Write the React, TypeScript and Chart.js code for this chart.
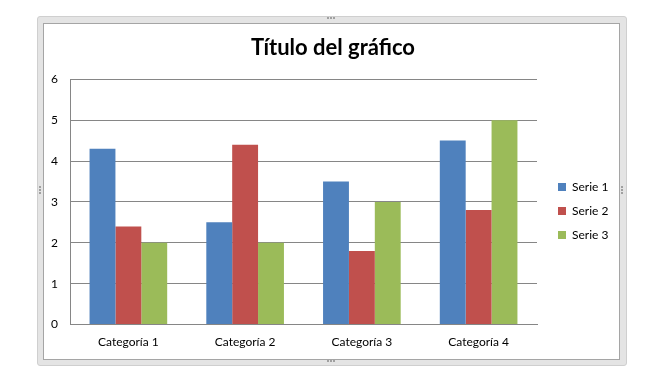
import React, { useEffect, useRef } from 'react';
import { Chart, registerables } from 'chart.js';

Chart.register(...registerables);

const categories = ['Categoría 1', 'Categoría 2', 'Categoría 3', 'Categoría 4'];
const serie1 = [4.3, 2.5, 3.5, 4.5];
const serie2 = [2.4, 4.4, 1.8, 2.8];
const serie3 = [2, 2, 3, 5];
const seriesNames = ['Serie 1', 'Serie 2', 'Serie 3'];
const seriesColors = ['#4F81BD', '#C0504D', '#9BBB59'];
const yMin = 0;
const yMax = 6;
const yStep = 1;
const chartTitle = 'Título del gráfico';

const FONT = 'Lato, "Open Sans", sans-serif';
const GRID = '#868686';

function Grip({ left, top, vertical }: { left: number; top: number; vertical?: boolean }) {
  const style: React.CSSProperties = vertical
    ? { position: 'absolute', left, top, width: 0, height: 8, borderLeft: '2px dotted #a0a0a0' }
    : { position: 'absolute', left, top, width: 8, height: 0, borderTop: '2px dotted #a0a0a0' };
  return <div style={style} />;
}

export default function App() {
  const ref = useRef<HTMLCanvasElement | null>(null);

  useEffect(() => {
    if (!ref.current) return;
    const datasets = [serie1, serie2, serie3].map((d, i) => ({
      label: seriesNames[i],
      data: d,
      backgroundColor: seriesColors[i],
      borderWidth: 0,
      barPercentage: 1,
      categoryPercentage: 0.665,
    }));
    const chart = new Chart(ref.current, {
      type: 'bar',
      data: { labels: categories, datasets },
      options: {
        animation: false,
        responsive: false,
        devicePixelRatio: 1,
        layout: { padding: { left: 50, right: 35, top: 31, bottom: 0 } },
        plugins: {
          title: {
            display: true,
            text: chartTitle,
            color: '#000',
            font: { family: FONT, size: 22, weight: 'bold' },
            padding: { top: 3.8, bottom: 18.1 },
          },
          legend: {
            display: true,
            position: 'right',
            maxWidth: 70,
            labels: {
              boxWidth: 8,
              boxHeight: 8,
              padding: 12,
              color: '#000',
              font: { family: FONT, size: 12 },
            },
          },
          tooltip: { enabled: false },
        },
        scales: {
          x: {
            type: 'category',
            grid: { display: false, drawTicks: false },
            border: { display: true, color: GRID, width: 1 },
            ticks: { color: '#000', font: { family: FONT, size: 12 }, padding: 10, maxRotation: 0 },
            afterFit: (s: any) => {
              s.height = 66.5;
            },
          },
          y: {
            type: 'linear',
            min: yMin,
            max: yMax,
            ticks: { stepSize: yStep, color: '#000', font: { family: FONT, size: 12 }, padding: 12 },
            grid: { color: GRID, lineWidth: 1, drawTicks: false },
            border: { display: true, color: GRID, width: 1 },
            afterFit: (s: any) => {
              s.width = 20;
            },
          },
          gap: {
            type: 'linear',
            position: 'right',
            display: true,
            grid: { display: false, drawTicks: false },
            border: { display: false },
            ticks: { display: false },
            afterFit: (s: any) => {
              s.width = 9;
            },
          },
        },
      } as any,
    });
    return () => chart.destroy();
  }, []);

  return (
    <div style={{ position: 'absolute', left: 0, top: 0, width: 651, height: 391, background: '#fff' }}>
      <div
        style={{
          position: 'absolute',
          left: 37,
          top: 16,
          width: 588,
          height: 348,
          background: '#e4e4e4',
          border: '1px solid #cfcfcf',
          borderRadius: 3,
        }}
      />
      <div
        style={{
          position: 'absolute',
          left: 43,
          top: 23,
          width: 575,
          height: 335,
          background: '#fff',
          border: '1px solid #a5a5a5',
        }}
      />
      <Grip left={327} top={17} />
      <Grip left={327} top={360} />
      <Grip left={39} top={186} vertical />
      <Grip left={621} top={186} vertical />
      <canvas
        ref={ref}
        width={651}
        height={391}
        style={{ position: 'absolute', left: 0, top: 0, width: 651, height: 391 }}
      />
    </div>
  );
}
